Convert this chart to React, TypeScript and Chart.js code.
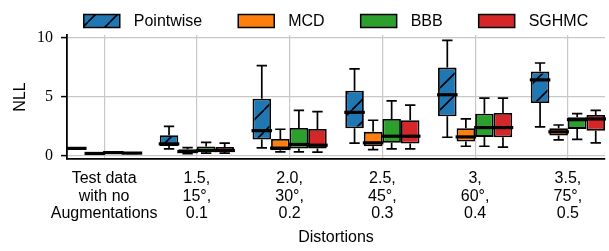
import React, { useEffect, useRef } from 'react';
import { Chart, registerables } from 'chart.js';

Chart.register(...registerables);

// ---- data ----
const categories: string[][] = [
  ['Test data', 'with no', 'Augmentations'],
  ['1.5,', '15°,', '0.1'],
  ['2.0,', '30°,', '0.2'],
  ['2.5,', '45°,', '0.3'],
  ['3,', '60°,', '0.4'],
  ['3.5,', '75°,', '0.5'],
];
const seriesNames = ['Pointwise', 'MCD', 'BBB', 'SGHMC'];
const seriesColors = ['#1f77b4', '#ff7f0e', '#2ca02c', '#d62728'];

// [whisker low, q1, median, q3, whisker high]
const pointwise = [
  [0.56, 0.58, 0.6, 0.62, 0.64],
  [0.56, 0.8, 0.98, 1.72, 2.47],
  [0.65, 1.35, 2.1, 4.8, 7.6],
  [1.04, 2.3, 3.65, 5.48, 7.33],
  [1.54, 3.31, 5.14, 7.44, 9.75],
  [2.42, 4.44, 6.4, 7.1, 7.83],
];
const mcd = [
  [0.14, 0.16, 0.17, 0.18, 0.2],
  [0.16, 0.24, 0.33, 0.53, 0.66],
  [0.31, 0.45, 0.62, 1.4, 2.22],
  [0.5, 0.78, 1.07, 2.0, 2.98],
  [0.78, 1.18, 1.57, 2.3, 3.09],
  [1.32, 1.68, 2.0, 2.3, 2.58],
];
const bbb = [
  [0.21, 0.23, 0.24, 0.25, 0.27],
  [0.2, 0.3, 0.42, 0.76, 1.1],
  [0.31, 0.59, 0.93, 2.33, 3.82],
  [0.56, 1.07, 1.63, 3.09, 4.63],
  [0.78, 1.57, 2.36, 3.54, 4.86],
  [1.37, 2.25, 3.03, 3.23, 3.54],
];
const sghmc = [
  [0.17, 0.19, 0.2, 0.21, 0.23],
  [0.2, 0.3, 0.42, 0.72, 1.04],
  [0.28, 0.59, 0.87, 2.25, 3.71],
  [0.56, 1.01, 1.63, 2.98, 4.27],
  [0.7, 1.54, 2.36, 3.6, 4.86],
  [1.07, 2.1, 3.09, 3.43, 3.82],
];
const seriesStats = [pointwise, mcd, bbb, sghmc];
const hatched = [true, false, false, false];
const yTickStep = 5;

function makeHatch(color: string): CanvasPattern | string {
  const s = 22;
  const c = document.createElement('canvas');
  c.width = s;
  c.height = s;
  const g = c.getContext('2d');
  if (!g) return color;
  g.fillStyle = color;
  g.fillRect(0, 0, s, s);
  g.strokeStyle = '#000';
  g.lineWidth = 1.6;
  g.beginPath();
  for (const k of [-s, 0, s]) {
    g.moveTo(k, s);
    g.lineTo(k + s, 0);
  }
  g.stroke();
  return g.createPattern(c, 'repeat') || color;
}

const SANS = "'Liberation Sans', Arial, sans-serif";
const SERIF = "'Liberation Serif', 'Times New Roman', serif";

export default function App() {
  const ref = useRef<HTMLCanvasElement | null>(null);

  useEffect(() => {
    if (!ref.current) return;
    const fills = seriesColors.map((c, i) => (hatched[i] ? makeHatch(c) : c));

    const boxPlugin = {
      id: 'boxWhiskers',
      afterDatasetsDraw(chart: any) {
        const ctx = chart.ctx;
        const yScale = chart.scales.y;
        ctx.save();
        ctx.strokeStyle = '#000';
        chart.data.datasets.forEach((_ds: any, di: number) => {
          const meta = chart.getDatasetMeta(di);
          meta.data.forEach((el: any, i: number) => {
            const [lo, q1, med, q3, hi] = seriesStats[di][i];
            const { x, width } = el.getProps(['x', 'width'], true);
            const yLo = yScale.getPixelForValue(lo);
            const yQ1 = yScale.getPixelForValue(q1);
            const yMed = yScale.getPixelForValue(med);
            const yQ3 = yScale.getPixelForValue(q3);
            const yHi = yScale.getPixelForValue(hi);
            const cap = width * 0.28;
            ctx.lineWidth = 1.7;
            ctx.beginPath();
            ctx.moveTo(x, yQ1);
            ctx.lineTo(x, yLo);
            ctx.moveTo(x, yQ3);
            ctx.lineTo(x, yHi);
            ctx.moveTo(x - cap, yLo);
            ctx.lineTo(x + cap, yLo);
            ctx.moveTo(x - cap, yHi);
            ctx.lineTo(x + cap, yHi);
            ctx.stroke();
            ctx.lineWidth = 3.2;
            ctx.beginPath();
            ctx.moveTo(x - width / 2 - 1, yMed);
            ctx.lineTo(x + width / 2 + 1, yMed);
            ctx.stroke();
          });
        });
        ctx.restore();
      },
    };

    const legendPlugin = {
      id: 'topLegend',
      afterDraw(chart: any) {
        const ctx = chart.ctx;
        const area = chart.chartArea;
        ctx.save();
        ctx.font = `16px ${SANS}`;
        ctx.textBaseline = 'middle';
        ctx.textAlign = 'left';
        const pw = 36, ph = 13, gapText = 14, gapItem = 36;
        const widths = seriesNames.map((n) => ctx.measureText(n).width);
        const total =
          widths.reduce((a, w) => a + pw + gapText + w, 0) + gapItem * (seriesNames.length - 1);
        let x = (area.left + area.right) / 2 - total / 2;
        const yc = 21;
        seriesNames.forEach((n, i) => {
          ctx.fillStyle = fills[i];
          ctx.fillRect(x, yc - ph / 2, pw, ph);
          ctx.strokeStyle = '#000';
          ctx.lineWidth = 1.5;
          ctx.strokeRect(x, yc - ph / 2, pw, ph);
          ctx.fillStyle = '#000';
          ctx.fillText(n, x + pw + gapText, yc + 1);
          x += pw + gapText + widths[i] + gapItem;
        });
        ctx.restore();
      },
    };

    const chart = new Chart(ref.current, {
      type: 'bar',
      data: {
        datasets: seriesNames.map((name, di) => ({
          label: name,
          data: seriesStats[di].map((s, i) => ({ x: i, y: [s[1], s[3]] })),
          backgroundColor: fills[di] as any,
          borderColor: '#000',
          borderWidth: 1.8,
          borderSkipped: false,
          categoryPercentage: 0.8,
          barPercentage: 1.0,
        })) as any,
      },
      options: {
        animation: false,
        responsive: false,
        layout: { padding: { top: 35, right: 4, left: 0, bottom: 0 } },
        plugins: {
          legend: { display: false },
          tooltip: { enabled: false },
        },
        scales: {
          x: {
            type: 'linear',
            min: -0.4,
            max: 5.4,
            offset: false,
            afterFit: (scale: any) => {
              scale.height = 92;
            },
            grid: {
              offset: false,
              color: '#c8c8c8',
              lineWidth: 1.2,
              drawTicks: false,
            },
            border: { display: true, color: '#000', width: 1.8 },
            ticks: {
              stepSize: 1,
              includeBounds: false,
              autoSkip: false,
              maxRotation: 0,
              padding: 11,
              color: '#000',
              font: { family: SANS, size: 16, lineHeight: 1.1 },
              callback: (v: any) => categories[Math.round(Number(v))] ?? '',
            },
            title: {
              display: true,
              text: 'Distortions',
              color: '#000',
              font: { family: SANS, size: 16 },
              padding: { top: 0, bottom: 4 },
            },
          } as any,
          y: {
            type: 'linear',
            min: -0.3,
            max: 10.2,
            afterFit: (scale: any) => {
              scale.width = 67;
            },
            grid: {
              color: '#c8c8c8',
              lineWidth: 1.2,
              drawTicks: true,
              tickLength: 6,
              tickColor: '#000',
              tickWidth: 1.5,
            },
            border: { display: true, color: '#000', width: 1.8 },
            ticks: {
              stepSize: yTickStep,
              includeBounds: false,
              padding: 8,
              color: '#000',
              font: { family: SERIF, size: 16 },
            },
            title: {
              display: true,
              text: 'NLL',
              color: '#000',
              font: { family: SANS, size: 16 },
              padding: { top: 11, bottom: 0 },
            },
          } as any,
        },
      },
      plugins: [boxPlugin, legendPlugin],
    });
    return () => chart.destroy();
  }, []);

  return (
    <div style={{ position: 'fixed', left: 0, top: 0, width: 609, height: 251, background: '#fff' }}>
      <canvas ref={ref} width={609} height={251} style={{ display: 'block' }} />
    </div>
  );
}
